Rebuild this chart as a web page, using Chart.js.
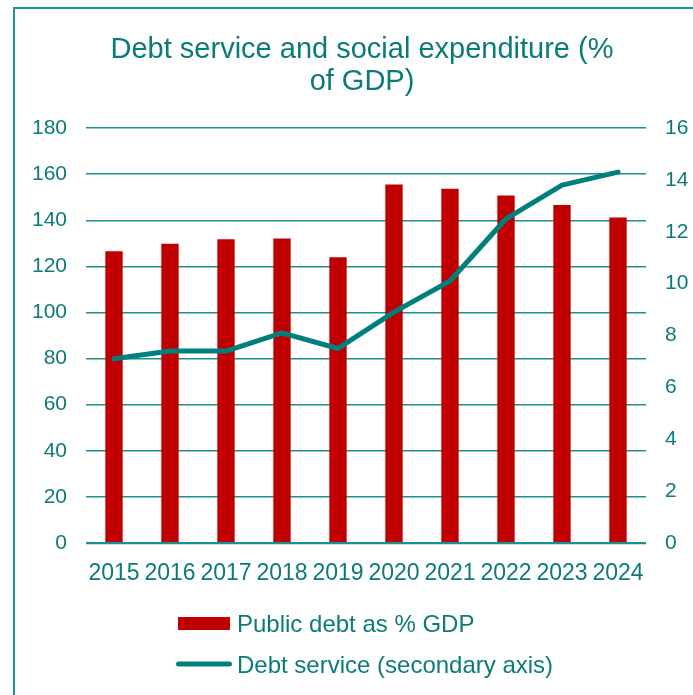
<!DOCTYPE html>
<html>
<head>
<meta charset="utf-8">
<script src="https://cdn.jsdelivr.net/npm/chart.js@4/dist/chart.umd.min.js"></script>
<style>
  html, body { margin: 0; padding: 0; background: #ffffff; }
  #wrap { width: 693px; height: 695px; position: relative; }
</style>
</head>
<body>
<div id="wrap"><canvas id="chart" width="693" height="695"></canvas></div>
<script>
// Years on the category axis
const years = ['2015', '2016', '2017', '2018', '2019', '2020', '2021', '2022', '2023', '2024'];
// Public debt, % of GDP (left axis)
const publicDebt = [126.5, 129.8, 131.7, 132.1, 123.9, 155.5, 153.6, 150.7, 146.6, 141.2];
// Debt service, % of GDP (right axis)
const debtService = [7.1, 7.4, 7.4, 8.1, 7.5, 8.9, 10.1, 12.5, 13.8, 14.3];
// Axis ranges and steps
const leftTicks = { min: 0, max: 180, step: 20 };
const rightTicks = { min: 0, max: 16, step: 2 };
const titleLines = ['Debt service and social expenditure (%', 'of GDP)'];
const seriesNames = ['Public debt as % GDP', 'Debt service (secondary axis)'];

const TEAL = '#00807c';
const TEXT = '#0b7b77';
const RED = '#c00000';
const FONT = '"Liberation Sans", Arial, sans-serif';

// Frame, title and stacked legend drawn straight onto the canvas
const decorations = {
  id: 'decorations',
  beforeDraw(chart) {
    const c = chart.ctx;
    c.save();
    c.strokeStyle = '#1a9494';
    c.lineWidth = 2;
    c.beginPath();
    c.moveTo(14, 760);
    c.lineTo(14, 8);
    c.lineTo(760, 8);
    c.stroke();
    c.restore();
  },
  afterDraw(chart) {
    const c = chart.ctx;
    c.save();
    c.fillStyle = TEXT;
    c.textAlign = 'center';
    c.textBaseline = 'alphabetic';
    c.font = '29px ' + FONT;
    c.fillText(titleLines[0], 362, 58);
    c.fillText(titleLines[1], 362, 90);

    const ds = chart.data.datasets;
    const bar = ds.find(d => d.type === 'bar');
    const line = ds.find(d => d.type === 'line');
    c.textAlign = 'left';
    c.font = '24px ' + FONT;
    // bar entry
    c.fillStyle = bar.backgroundColor;
    c.fillRect(178, 617, 52, 13);
    c.fillStyle = TEXT;
    c.fillText(bar.label, 237, 632);
    // line entry
    c.strokeStyle = line.borderColor;
    c.lineWidth = 5;
    c.lineCap = 'round';
    c.beginPath();
    c.moveTo(178.5, 664);
    c.lineTo(229.5, 664);
    c.stroke();
    c.fillStyle = TEXT;
    c.fillText(line.label, 237, 673);
    c.restore();
  }
};

new Chart(document.getElementById('chart'), {
  data: {
    labels: years,
    datasets: [
      {
        type: 'line',
        label: seriesNames[1],
        data: debtService,
        yAxisID: 'y1',
        borderColor: TEAL,
        borderWidth: 5,
        borderCapStyle: 'round',
        borderJoinStyle: 'round',
        pointRadius: 0,
        tension: 0,
        order: 0
      },
      {
        type: 'bar',
        label: seriesNames[0],
        data: publicDebt,
        yAxisID: 'y',
        backgroundColor: RED,
        categoryPercentage: 1,
        barPercentage: 0.31,
        order: 1
      }
    ]
  },
  plugins: [decorations],
  options: {
    responsive: false,
    animation: false,
    devicePixelRatio: 1,
    layout: { padding: { top: 128, left: 0, right: 0, bottom: 0 } },
    plugins: {
      legend: { display: false },
      title: { display: false },
      tooltip: { enabled: false }
    },
    scales: {
      x: {
        type: 'category',
        offset: true,
        grid: { display: false, drawTicks: false },
        border: { display: false },
        ticks: {
          autoSkip: false,
          maxRotation: 0,
          minRotation: 0,
          padding: 17,
          color: TEXT,
          font: { family: FONT, size: 23 }
        },
        afterFit(scale) { scale.height = 152; }
      },
      y: {
        position: 'left',
        min: leftTicks.min,
        max: leftTicks.max,
        border: { display: false },
        grid: {
          drawTicks: false,
          color: '#1a9090',
          lineWidth: ctx => (ctx.tick && ctx.tick.value === 0 ? 2.2 : 1.4)
        },
        ticks: {
          stepSize: leftTicks.step,
          padding: 19,
          color: TEXT,
          font: { family: FONT, size: 21 }
        },
        afterFit(scale) { scale.width = 86; }
      },
      y1: {
        position: 'right',
        min: rightTicks.min,
        max: rightTicks.max,
        border: { display: false },
        grid: { display: false, drawTicks: false },
        ticks: {
          stepSize: rightTicks.step,
          padding: 19,
          color: TEXT,
          font: { family: FONT, size: 21 }
        },
        afterFit(scale) { scale.width = 47; }
      }
    }
  }
});
</script>
</body>
</html>
